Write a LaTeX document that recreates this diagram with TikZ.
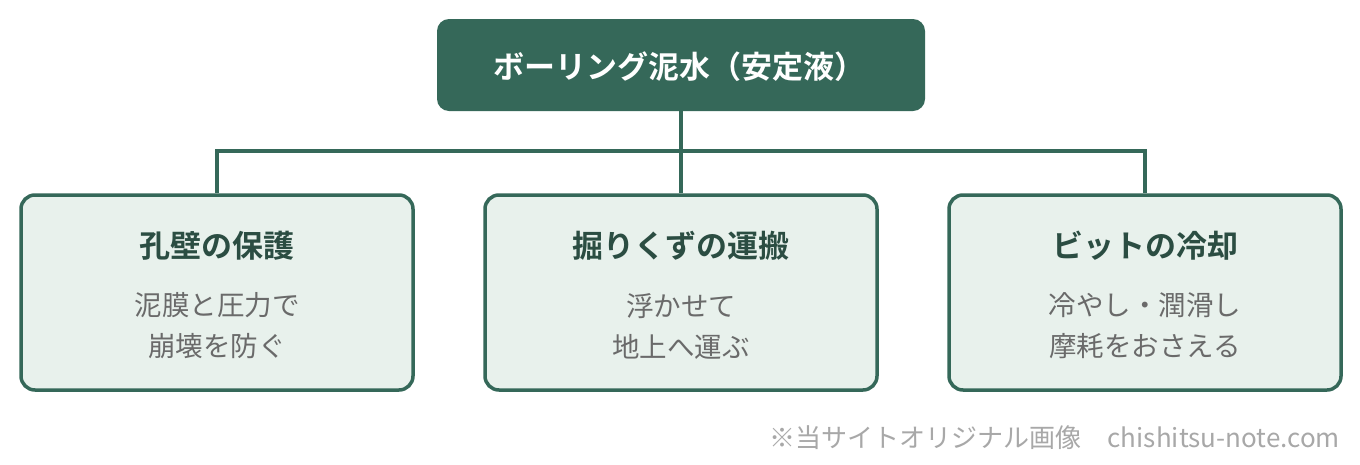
\documentclass[tikz,border=0pt]{standalone}
\usepackage{fontspec}
\setmainfont{Noto Sans CJK JP}[BoldFont={Noto Sans CJK JP Bold}]
\newfontfamily\jpbold{Noto Sans CJK JP Bold}
\definecolor{dg}{HTML}{356859}
\definecolor{tg}{HTML}{2B4D42}
\definecolor{lf}{HTML}{E8F1EC}
\definecolor{sub}{HTML}{6A6A6A}
\definecolor{foot}{HTML}{A8A8A8}
\begin{document}
\begin{tikzpicture}[x=1pt,y=-1pt,
  topbox/.style={fill=dg,rounded corners=12pt,minimum width=488pt,minimum height=92pt,inner sep=0pt},
  catbox/.style={fill=lf,draw=dg,line width=3.5pt,rounded corners=14pt,minimum width=392pt,minimum height=195pt,inner sep=0pt},
  conn/.style={draw=dg,line width=4pt},
  ttl/.style={font=\jpbold\fontsize{31}{36}\selectfont,text=tg},
  subt/.style={font=\fontsize{27.5}{41}\selectfont,text=sub,align=center},
]
\fill[white] (0,0) rectangle (1360,464);
\node[topbox] (top) at (681,65) {};
\node[font=\jpbold\fontsize{31}{36}\selectfont,text=white] (toptxt) at (679,67) {ボーリング泥水（安定液）};
\coordinate (hl) at (217,151);
\coordinate (hm) at (681,151);
\coordinate (hr) at (1145,151);
\node[catbox] (b1) at (217,292.5) {};
\node[catbox] (b2) at (681,292.5) {};
\node[catbox] (b3) at (1145,292.5) {};
\draw[conn] (top.south) -- (b2.north);
\draw[conn] (b1.north) -- (hl) -- (hr) -- (b3.north);
\node[ttl] (t1) at (217,246) {孔壁の保護};
\node[ttl] (t2) at (681,246) {掘りくずの運搬};
\node[ttl] (t3) at (1145,246) {ビットの冷却};
\node[subt] (s1) at (217,326) {泥膜と圧力で\\崩壊を防ぐ};
\node[subt] (s2) at (681,326) {浮かせて\\地上へ運ぶ};
\node[subt] (s3) at (1145,326) {冷やし・潤滑し\\摩耗をおさえる};
\node[anchor=east,font=\fontsize{26}{30}\selectfont,text=foot,inner sep=0pt] (ft) at (1340,438) {※当サイトオリジナル画像　chishitsu-note.com};
\end{tikzpicture}
\end{document}
